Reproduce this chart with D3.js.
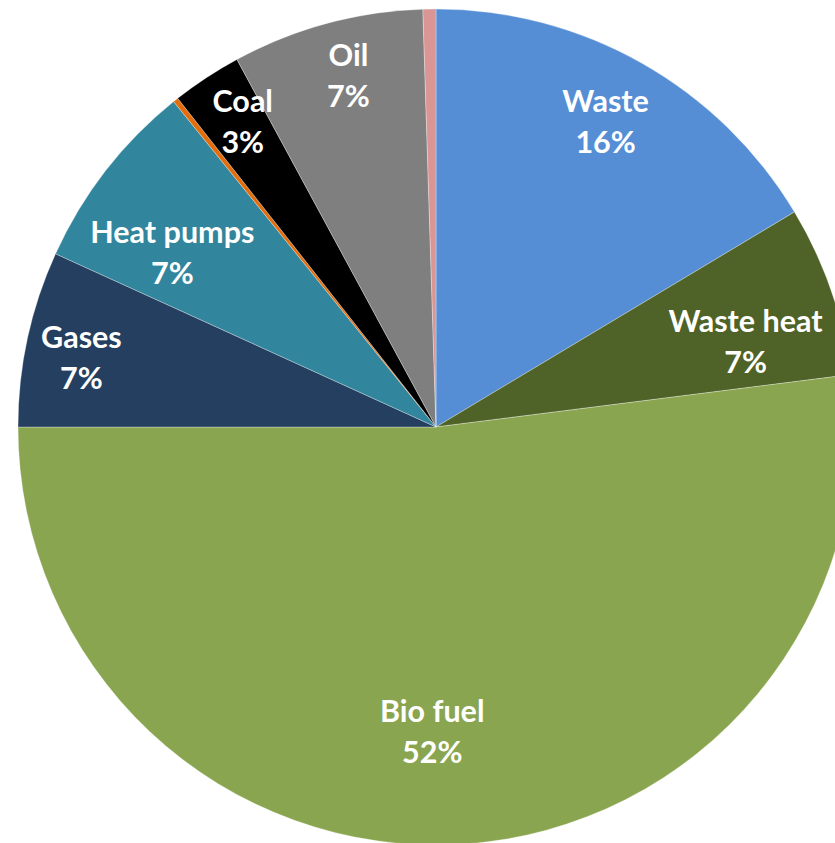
<!DOCTYPE html>
<meta charset="utf-8">
<html>
<head>
<style>
body { margin: 0; background: #fff; }
.label {
    font-family: Lato, "Open Sans", sans-serif;
    font-weight: bold;
    font-size: 30.5px;
    fill: #fff;
}
</style>
</head>
<body>
<script src="https://cdnjs.cloudflare.com/ajax/libs/d3/7.8.5/d3.min.js"></script>
<script>

// slice order, clockwise from 12 o'clock
var sources = ["Waste", "Waste heat", "Bio fuel", "Gases", "Heat pumps", "Electricity", "Coal", "Oil", "Other"];
var shares  = [16.4, 6.6, 52.0, 6.8, 7.4, 0.2, 2.7, 7.4, 0.5];
var colors  = ["#558ed5", "#4f6228", "#8aa54f", "#243f60", "#31859c", "#e46c0a", "#000000", "#7f7f7f", "#d99694"];

var width = 835, height = 843;
var cx = 436, cy = 427, radius = 418;

// label placement, roughly like excel's "best fit"
var labelLayout = {
    "Waste":      {r: 0.833, dx: -2, dy: -2},
    "Waste heat": {r: 0.766, dx: 7,  dy: 20},
    "Bio fuel":   {r: 0.732, dx: -23, dy: 0},
    "Gases":      {r: 0.868, dx: 0,  dy: 8},
    "Heat pumps": {r: 0.756, dx: -14, dy: 20},
    "Coal":       {r: 0.864, dx: 5,  dy: -3},
    "Oil":        {r: 0.868, dx: 7,  dy: -1}
};

var data = sources.map(function(s, i) {
    return {name: s, value: shares[i], color: colors[i]};
});

var svg = d3.select("body").append("svg")
    .attr("width", width)
    .attr("height", height);

var g = svg.append("g")
    .attr("transform", "translate(" + cx + "," + cy + ")");

var pie = d3.pie()
    .sort(null)
    .value(function(d) { return d.value; });

var arc = d3.arc()
    .innerRadius(0)
    .outerRadius(radius);

var arcs = pie(data);

g.selectAll(".slice")
    .data(arcs)
    .enter().append("path")
    .attr("class", "slice")
    .attr("d", arc)
    .style("fill", function(d) { return d.data.color; })
    .style("stroke", "#fff")
    .style("stroke-width", 0.5)
    .style("stroke-opacity", 0.6);

var labels = g.selectAll(".label")
    .data(arcs.filter(function(d) { return labelLayout[d.data.name]; }))
    .enter().append("text")
    .attr("class", "label")
    .attr("text-anchor", "middle")
    .attr("transform", function(d) {
        var lay = labelLayout[d.data.name];
        var r = radius * lay.r;
        var c = d3.arc().innerRadius(r).outerRadius(r).centroid(d);
        return "translate(" + (c[0] + lay.dx) + "," + (c[1] + lay.dy) + ")";
    });

labels.append("tspan")
    .attr("x", 0)
    .attr("y", -10)
    .text(function(d) { return d.data.name; });

labels.append("tspan")
    .attr("x", 0)
    .attr("y", 31)
    .text(function(d) { return Math.round(d.data.value) + "%"; });

</script>
</body>
</html>
